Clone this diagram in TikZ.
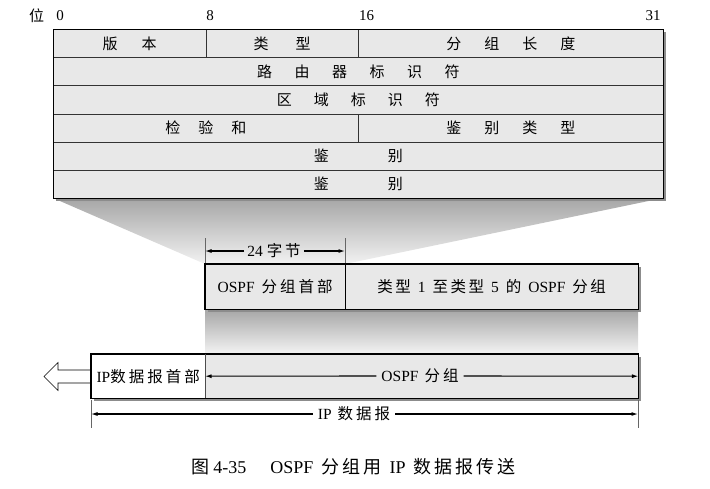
\documentclass[tikz,border=0pt]{standalone}
\usepackage{fontspec}
\setmainfont{Liberation Serif}
\newfontfamily\zhf{Noto Sans CJK SC}
\usetikzlibrary{arrows.meta}
\definecolor{boxgray}{HTML}{E8E8E8}
\definecolor{shadowgray}{HTML}{8C8C8C}
\definecolor{shtop}{HTML}{A6A6A6}
\definecolor{shbot}{HTML}{F2F2F2}
\newcommand\zc[1]{{\zhf #1}}
\begin{document}
\begin{tikzpicture}[x=1pt,y=-1pt,
  field/.style={fill=boxgray, draw=black!80, line width=0.7pt, inner sep=0pt, anchor=north west, minimum height=28.17, font=\fontsize{15}{15}\selectfont\zhf},
  box/.style={inner sep=0pt, anchor=north west, minimum height=45, font=\fontsize{15.5}{16}\selectfont},
  dim/.style={line width=1.1pt, -{Latex[length=6.5pt,width=4pt]}},
  tick/.style={draw=black!60, line width=0.6pt},
  lbl/.style={font=\fontsize{15.5}{16}\selectfont, inner sep=5pt},
  bit/.style={font=\fontsize{15}{15}\selectfont, inner sep=0pt},
]
\useasboundingbox (0,0) rectangle (710,488);

% funnel shading from header table to OSPF header
\shade[top color=shtop, bottom color=shbot] (53,198) -- (663,198) -- (345,264) -- (205,264) -- cycle;

% bit labels
\node[bit] (wei) at (36.5,15.5) {\zc{位}};
\node[bit] (b0) at (60,15.5) {0};
\node[bit] (b8) at (210,15.5) {8};
\node[bit] (b16) at (366.5,15.5) {16};
\node[bit] (b31) at (653,15.5) {31};

% header table
\fill[shadowgray] (55.5,31.5) rectangle (665.5,200.5);
\node[field, minimum width=152.5] (ver) at (53,29) {版\hspace{24pt}本};
\node[field, minimum width=152.5] (typ) at (205.5,29) {类\hspace{27pt}型};
\node[field, minimum width=305] (len) at (358,29) {分\hspace{23pt}组\hspace{23pt}长\hspace{23pt}度};
\node[field, minimum width=610] (rid) at (53,57.17) {路\hspace{22.5pt}由\hspace{22.5pt}器\hspace{22.5pt}标\hspace{22.5pt}识\hspace{22.5pt}符};
\node[field, minimum width=610] (aid) at (53,85.33) {区\hspace{22pt}域\hspace{22pt}标\hspace{22pt}识\hspace{22pt}符};
\node[field, minimum width=305] (cks) at (53,113.5) {检\hspace{18pt}验\hspace{18pt}和};
\node[field, minimum width=305] (aut) at (358,113.5) {鉴\hspace{23pt}别\hspace{23pt}类\hspace{23pt}型};
\node[field, minimum width=610] (au1) at (53,141.67) {鉴\hspace{59pt}别};
\node[field, minimum width=610] (au2) at (53,169.83) {鉴\hspace{59pt}别};
\draw[line width=1pt] (ver.north west) rectangle (au2.south east);

% OSPF packet
\shade[top color=shtop, bottom color=shbot] (205,309) rectangle (638,353);
\fill[shadowgray] (208,267) rectangle (641,312);
\node[box, fill=boxgray, minimum width=140] (oh) at (205,264) {OSPF\hspace{7pt}\zc{分\hspace{3pt}组\hspace{3pt}首\hspace{3pt}部}};
\node[box, fill=boxgray, minimum width=293] (ob) at (345,264) {\zc{类\hspace{2.5pt}型}\hspace{7pt}1\hspace{7pt}\zc{至\hspace{2.5pt}类\hspace{2.5pt}型}\hspace{7pt}5\hspace{7pt}\zc{的}\hspace{7pt}OSPF\hspace{7pt}\zc{分\hspace{2.5pt}组}};
\draw[line width=1.1pt] (oh.north west) rectangle (ob.south east);
\draw[line width=0.7pt] (oh.north east) -- (oh.south east);

% 24 bytes dimension
\coordinate (d24L) at (205,251);
\coordinate (d24R) at (345,251);
\draw[tick] (205,238) -- (205,263);
\draw[tick] (345,238) -- (345,263);
\node[lbl, inner sep=3pt] (t24) at (274,251) {24\hspace{4pt}\zc{字\hspace{3pt}节}};
\draw[dim] (t24.west) -- (d24L);
\draw[dim] (t24.east) -- (d24R);

% IP datagram
\fill[shadowgray] (94,357) rectangle (641,401);
\node[box, fill=white, minimum width=114, minimum height=44] (iph) at (91,354) {IP\zc{数\hspace{3pt}据\hspace{3pt}报\hspace{3pt}首\hspace{3pt}部}};
\node[box, fill=boxgray, minimum width=433, minimum height=44] (ipb) at (205,354) {};
\draw[line width=1.1pt] (iph.north west) rectangle (ipb.south east);
\draw[line width=0.7pt, black!70] (iph.north east) -- (iph.south east);
\node[lbl] (ospfl) at (420,376) {OSPF\hspace{6pt}\zc{分\hspace{3pt}组}};
\draw[dim] (ospfl.west) -- (ipb.west);
\draw[dim] (ospfl.east) -- (ipb.east);

% hollow arrow
\draw[line width=0.6pt] (iph.west |- 0,370) -- (58,370) -- (58,362.5) -- (44,376.5) -- (58,390.5) -- (58,383) -- (iph.west |- 0,383);

% IP datagram dimension
\coordinate (ipL) at (91,414);
\coordinate (ipR) at (638,414);
\draw[tick] (91,400) -- (91,428);
\draw[tick] (638,400) -- (638,428);
\node[lbl] (ipdl) at (354,414) {IP\hspace{6pt}\zc{数\hspace{3pt}据\hspace{3pt}报}};
\draw[dim] (ipdl.west) -- (ipL);
\draw[dim] (ipdl.east) -- (ipR);

% caption
\node[font=\fontsize{18}{18}\selectfont, inner sep=0pt] (cap) at (353.5,466.5) {\zc{图}\hspace{4pt}4-35\hspace{24pt}OSPF\hspace{8pt}\zc{分\hspace{3pt}组\hspace{3pt}用}\hspace{8pt}IP\hspace{8pt}\zc{数\hspace{3pt}据\hspace{3pt}报\hspace{3pt}传\hspace{3pt}送}};
\end{tikzpicture}
\end{document}
